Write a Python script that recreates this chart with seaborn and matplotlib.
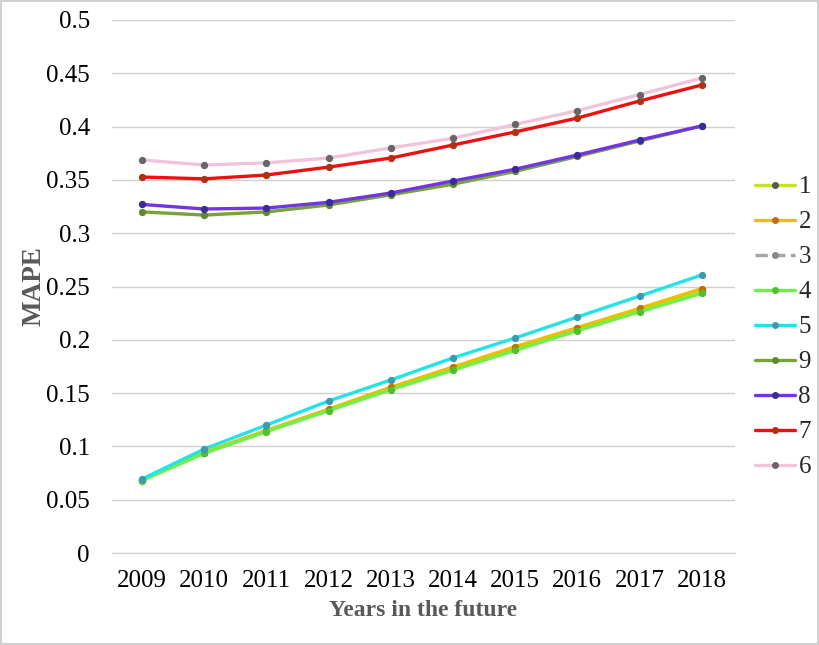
import numpy as np
import pandas as pd
import matplotlib
matplotlib.use('Agg')
import matplotlib.pyplot as plt
from matplotlib.lines import Line2D
import seaborn as sns

sns.set_style('white')
plt.rcParams['font.family'] = ['Liberation Serif', 'DejaVu Serif']

years = [2009, 2010, 2011, 2012, 2013, 2014, 2015, 2016, 2017, 2018]

# MAPE per scenario
s1 = [0.0685, 0.094, 0.1144, 0.134, 0.154, 0.1726, 0.1914, 0.210, 0.228, 0.2460]
s2 = [0.0688, 0.0945, 0.1150, 0.1350, 0.1555, 0.1745, 0.1935, 0.2115, 0.2295, 0.2480]
s3 = [0.0686, 0.0942, 0.1146, 0.1345, 0.1548, 0.1735, 0.1925, 0.2108, 0.2288, 0.2470]
s4 = [0.0680, 0.0935, 0.1138, 0.1335, 0.1532, 0.1715, 0.1900, 0.2085, 0.2262, 0.2435]
s5 = [0.0694, 0.0976, 0.1200, 0.1426, 0.1623, 0.1830, 0.2017, 0.2214, 0.2410, 0.2608]
s9 = [0.3200, 0.3170, 0.3200, 0.3265, 0.3360, 0.3460, 0.3580, 0.3720, 0.3865, 0.4006]
s8 = [0.3270, 0.3227, 0.3236, 0.3290, 0.3377, 0.3490, 0.3600, 0.3734, 0.3874, 0.4006]
s7 = [0.3527, 0.3510, 0.3546, 0.3620, 0.3705, 0.3827, 0.3950, 0.4080, 0.4240, 0.4390]
s6 = [0.3687, 0.3640, 0.3660, 0.3705, 0.3800, 0.3890, 0.4020, 0.4150, 0.4300, 0.4456]

labels = ['1', '2', '3', '4', '5', '9', '8', '7', '6']
series = [s1, s2, s3, s4, s5, s9, s8, s7, s6]
colors = ['#c5e21c', '#e8c000', '#a6a6a6', '#6ff04a', '#22e4e6', '#76a43a', '#7236e0', '#ee1010', '#f2c4dc']
mcolors = ['#555555', '#c07000', '#888888', '#50c030', '#3a9ab0', '#5f8a2c', '#3a2a9a', '#b03010', '#666666']

df = pd.DataFrame({'Year': years * len(labels),
                   'MAPE': np.concatenate(series),
                   'Series': np.repeat(labels, len(years))})

fig = plt.figure(figsize=(8.19, 6.45), dpi=100)
fig.patch.set_edgecolor('#d0d0d0')
fig.patch.set_linewidth(1.5)
ax = fig.add_axes([0.137, 0.1426, 0.76, 0.8264])

draw_order = ['3', '1', '2', '4', '5', '9', '8', '7', '6']
for lab in draw_order:
    i = labels.index(lab)
    sub = df[df['Series'] == lab]
    sns.lineplot(data=sub, x='Year', y='MAPE', ax=ax, color=colors[i], linewidth=2.4,
                 marker='o', markersize=4.5, markerfacecolor=mcolors[i], markeredgecolor=mcolors[i],
                 linestyle='--' if lab == '3' else '-', legend=False)

ax.set_xlim(2008.52, 2018.53)
ax.set_ylim(0, 0.5)
ax.set_xticks(years)
ax.set_yticks(np.arange(0, 0.501, 0.05))
ax.set_yticklabels(['0', '0.05', '0.1', '0.15', '0.2', '0.25', '0.3', '0.35', '0.4', '0.45', '0.5'])
ax.tick_params(axis='both', labelsize=18, length=0, colors='black')
ax.tick_params(axis='x', pad=12)
ax.tick_params(axis='y', pad=16)
ax.yaxis.grid(True, color='#d0d0d0', linewidth=1)
for sp in ['top', 'right', 'left']:
    ax.spines[sp].set_visible(False)
ax.spines['bottom'].set_color('#d0d0d0')
ax.set_xlabel('Years in the future', fontsize=17, fontweight='bold', color='#595959', labelpad=6)
ax.set_ylabel('MAPE', fontsize=19.5, fontweight='bold', color='#595959', labelpad=0)

handles = [Line2D([0], [0], color=colors[i], linewidth=2.4, marker='o', markersize=4,
                  markerfacecolor=mcolors[i], markeredgecolor=mcolors[i],
                  linestyle='--' if labels[i] == '3' else '-') for i in range(len(labels))]
ax.legend(handles, labels, loc='upper left', bbox_to_anchor=(1.0, 0.745), frameon=False,
          fontsize=18, handlelength=1.6, handletextpad=0.15, labelspacing=0.5,
          borderaxespad=0.4)

plt.savefig('out.png', dpi=100)
plt.close()
